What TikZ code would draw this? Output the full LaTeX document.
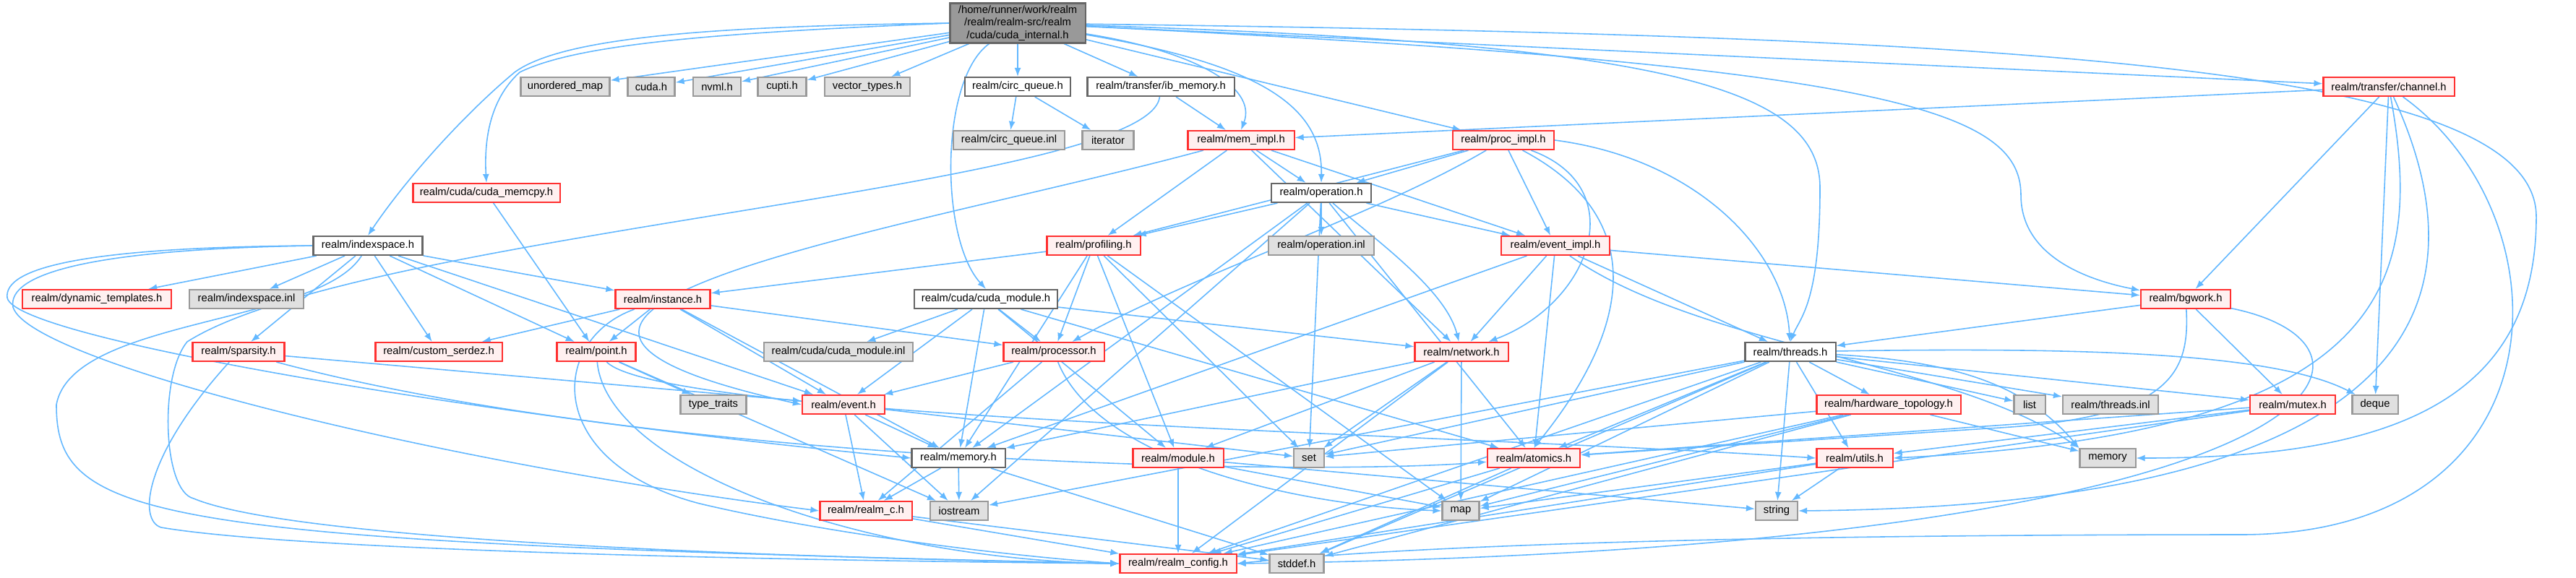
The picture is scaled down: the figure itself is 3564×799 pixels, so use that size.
\documentclass[tikz,border=0pt]{standalone}
\usepackage{fontspec}
\setmainfont{Liberation Sans}
\usetikzlibrary{arrows.meta,backgrounds}
\definecolor{edgec}{HTML}{63B8FF}
\definecolor{redfill}{HTML}{FFF0F0}
\definecolor{redline}{HTML}{FF3030}
\definecolor{grayfill}{HTML}{E0E0E0}
\definecolor{grayline}{HTML}{999999}
\definecolor{mainfill}{HTML}{999999}
\definecolor{mainline}{HTML}{666666}
\definecolor{whiteline}{HTML}{666666}
\begin{document}
\begin{tikzpicture}[x=0.01cm,y=-0.01cm,
 box/.style={rectangle, inner sep=0pt, minimum height=0.26cm, line width=0.6pt, font=\fontsize{4.2}{5}\selectfont, text=black},
 wbox/.style={box, fill=white, draw=whiteline},
 rbox/.style={box, fill=redfill, draw=redline},
 gbox/.style={box, fill=grayfill, draw=grayline},
 mbox/.style={box, fill=mainfill, draw=mainline, align=center, minimum height=0.55cm},
 e/.style={draw=edgec, line width=0.45pt, -{Latex[length=0.12cm,width=0.09cm]}},
]
\useasboundingbox (0,0) rectangle (3564,799);
% row 0
\node[mbox, minimum width=1.87cm] (main) at (1408,32) {/home/runner/work/realm\\/realm/realm-src/realm\\/cuda/cuda\_internal.h};
% row 1
\node[gbox, minimum width=1.23cm] (umap) at (782,120) {unordered\_map};
\node[gbox, minimum width=0.65cm] (cudah) at (901,120) {cuda.h};
\node[gbox, minimum width=0.66cm] (nvml) at (992,120) {nvml.h};
\node[gbox, minimum width=0.67cm] (cupti) at (1082,120) {cupti.h};
\node[gbox, minimum width=1.18cm] (vtypes) at (1200,120) {vector\_types.h};
\node[wbox, minimum width=1.46cm] (circq) at (1408,120) {realm/circ\_queue.h};
\node[wbox, minimum width=2.03cm] (ibmem) at (1606,120) {realm/transfer/ib\_memory.h};
\node[rbox, minimum width=1.81cm] (channel) at (3305,120) {realm/transfer/channel.h};
% row 2
\node[gbox, minimum width=1.54cm] (circqinl) at (1396,194) {realm/circ\_queue.inl};
\node[gbox, minimum width=0.71cm] (iter) at (1533,194) {iterator};
\node[rbox, minimum width=1.47cm] (memimpl) at (1717,194) {realm/mem\_impl.h};
\node[rbox, minimum width=1.40cm] (procimpl) at (2080,194) {realm/proc\_impl.h};
% row 3
\node[rbox, minimum width=2.03cm] (cmemcpy) at (673,267) {realm/cuda/cuda\_memcpy.h};
\node[wbox, minimum width=1.38cm] (operation) at (1828,267) {realm/operation.h};
% row 4
\node[wbox, minimum width=1.51cm] (idx) at (509,340) {realm/indexspace.h};
\node[rbox, minimum width=1.29cm] (prof) at (1513,340) {realm/profiling.h};
\node[gbox, minimum width=1.46cm] (opinl) at (1828,340) {realm/operation.inl};
\node[rbox, minimum width=1.50cm] (evimpl) at (2152,340) {realm/event\_impl.h};
% row 5
\node[rbox, minimum width=2.05cm] (dyn) at (134,414) {realm/dynamic\_templates.h};
\node[gbox, minimum width=1.58cm] (idxinl) at (341,414) {realm/indexspace.inl};
\node[rbox, minimum width=1.31cm] (inst) at (917,414) {realm/instance.h};
\node[wbox, minimum width=1.98cm] (cmod) at (1364,414) {realm/cuda/cuda\_module.h};
\node[rbox, minimum width=1.24cm] (bgwork) at (3024,414) {realm/bgwork.h};
% row 6
\node[rbox, minimum width=1.27cm] (sparse) at (330,487) {realm/sparsity.h};
\node[rbox, minimum width=1.75cm] (serdez) at (607,487) {realm/custom\_serdez.h};
\node[rbox, minimum width=1.09cm] (point) at (825,487) {realm/point.h};
\node[gbox, minimum width=2.06cm] (cmodinl) at (1160,487) {realm/cuda/cuda\_module.inl};
\node[rbox, minimum width=1.39cm] (proc) at (1458,487) {realm/processor.h};
\node[rbox, minimum width=1.29cm] (net) at (2022,487) {realm/network.h};
\node[wbox, minimum width=1.25cm] (threads) at (2477,487) {realm/threads.h};
% row 7
\node[gbox, minimum width=0.91cm] (ttraits) at (987,560) {type\_traits};
\node[rbox, minimum width=1.14cm] (event) at (1167,560) {realm/event.h};
\node[rbox, minimum width=1.99cm] (hwtopo) at (2613,560) {realm/hardware\_topology.h};
\node[gbox, minimum width=0.43cm] (list) at (2808,560) {list};
\node[gbox, minimum width=1.32cm] (thinl) at (2920,560) {realm/threads.inl};
\node[rbox, minimum width=1.18cm] (mutex) at (3172,560) {realm/mutex.h};
\node[gbox, minimum width=0.63cm] (deque) at (3286,560) {deque};
% row 8
\node[wbox, minimum width=1.29cm] (memh) at (1326,634) {realm/memory.h};
\node[rbox, minimum width=1.25cm] (module) at (1630,634) {realm/module.h};
\node[gbox, minimum width=0.42cm] (set) at (1811,634) {set};
\node[rbox, minimum width=1.28cm] (atomics) at (2122,634) {realm/atomics.h};
\node[rbox, minimum width=1.05cm] (utils) at (2566,634) {realm/utils.h};
\node[gbox, minimum width=0.77cm] (stdmem) at (2916,634) {memory};
% row 9
\node[rbox, minimum width=1.27cm] (realmc) at (1198,707) {realm/realm\_c.h};
\node[gbox, minimum width=0.80cm] (iostream) at (1327,707) {iostream};
\node[gbox, minimum width=0.51cm] (map) at (2021,707) {map};
\node[gbox, minimum width=0.58cm] (string) at (2458,707) {string};
% row 10
\node[rbox, minimum width=1.61cm] (config) at (1630,780) {realm/realm\_config.h};
\node[gbox, minimum width=0.75cm] (stddef) at (1794,780) {stddef.h};

\begin{pgfonlayer}{background}
\fill[white] (0,0) rectangle (3564,799);
% main
\draw[e] (main) -- (umap);
\draw[e] (main) -- (cudah);
\draw[e] (main) -- (nvml);
\draw[e] (main) -- (cupti);
\draw[e] (main) -- (vtypes);
\draw[e] (main) -- (circq);
\draw[e] (main) -- (ibmem);
\draw[e] (main) -- (procimpl);
\draw[e] (main) -- (channel);
\draw[e] (main.west) .. controls (1000,36) and (780,50) .. (712,100) .. controls (640,160) and (560,250) .. (idx.north);
\draw[e] (main.west) .. controls (1000,45) and (800,60) .. (719,100) .. controls (675,140) and (670,200) .. (cmemcpy.north);
\draw[e] (main) .. controls (1300,110) and (1300,330) .. (cmod.north);
\draw[e] (main) .. controls (1650,70) and (1740,120) .. (memimpl.north);
\draw[e] (main) .. controls (1750,90) and (1830,150) .. (operation.north);
\draw[e] (main) .. controls (2300,60) and (2518,120) .. (2518,260) .. controls (2518,420) and (2490,440) .. (threads.north);
\draw[e] (main) .. controls (2600,90) and (2796,150) .. (2796,270) .. controls (2796,360) and (2900,390) .. (bgwork);
\draw[e] (main) .. controls (2800,50) and (3509,90) .. (3509,300) .. controls (3509,560) and (3300,634) .. (stdmem.east);
% circ queue
\draw[e] (circq) -- (circqinl);
\draw[e] (circq) -- (iter);
% ib memory
\draw[e] (ibmem) -- (memimpl);
\draw[e] (ibmem) .. controls (1590,260) and (500,320) .. (259,473) .. controls (220,520) and (225,680) .. (268,690) .. controls (400,745) and (1000,770) .. (config.west);
% channel
\draw[e] (channel) -- (memimpl);
\draw[e] (channel) -- (bgwork);
\draw[e] (channel) -- (deque);
\draw[e] (channel) .. controls (3356,400) and (3300,600) .. (utils.east);
\draw[e] (channel) .. controls (3457,450) and (3300,700) .. (string.east);
\draw[e] (channel) .. controls (3555,300) and (3555,740) .. (3100,740) .. controls (2300,740) and (1900,760) .. (config.east);
% mem impl
\draw[e] (memimpl) -- (operation);
\draw[e] (memimpl) -- (evimpl);
\draw[e] (memimpl) -- (prof);
\draw[e] (memimpl) -- (net);
\draw[e] (memimpl) .. controls (1250,320) and (520,430) .. (event.west);
% proc impl
\draw[e] (procimpl) -- (operation);
\draw[e] (procimpl) -- (prof);
\draw[e] (procimpl) -- (evimpl);
\draw[e] (procimpl) .. controls (1900,300) and (1650,380) .. (proc);
\draw[e] (procimpl) .. controls (2260,260) and (2200,420) .. (net);
\draw[e] (procimpl) .. controls (2280,300) and (2260,450) .. (atomics.north);
\draw[e] (procimpl.east) .. controls (2350,220) and (2470,350) .. (threads);
% cuda memcpy
\draw[e] (cmemcpy) -- (point);
% operation
\draw[e] (operation) -- (prof);
\draw[e] (operation) -- (opinl);
\draw[e] (operation) -- (evimpl);
\draw[e] (operation) -- (memh);
\draw[e] (operation) -- (iostream);
\draw[e] (operation) -- (set);
\draw[e] (operation) -- (atomics);
\draw[e] (operation) .. controls (1900,330) and (2000,400) .. (net);
% indexspace
\draw[e] (idx) -- (dyn);
\draw[e] (idx) -- (idxinl);
\draw[e] (idx) -- (inst);
\draw[e] (idx) -- (sparse);
\draw[e] (idx) -- (serdez);
\draw[e] (idx) -- (point);
\draw[e] (idx) -- (event);
\draw[e] (idx.west) .. controls (120,342) and (5,370) .. (10,412) .. controls (20,470) and (700,580) .. (memh.west);
\draw[e] (idx.west) .. controls (120,345) and (10,380) .. (18,425) .. controls (40,500) and (600,640) .. (realmc.west);
\draw[e] (idx) .. controls (440,450) and (100,440) .. (78,560) .. controls (78,720) and (200,750) .. (config.west);
% profiling
\draw[e] (prof) -- (inst);
\draw[e] (prof) -- (proc);
\draw[e] (prof) -- (memh);
\draw[e] (prof) -- (module);
\draw[e] (prof) -- (set);
\draw[e] (prof) -- (map);
% event impl
\draw[e] (evimpl) -- (bgwork);
\draw[e] (evimpl) -- (net);
\draw[e] (evimpl) -- (threads);
\draw[e] (evimpl) -- (atomics);
\draw[e] (evimpl) -- (memh);
\draw[e] (evimpl) .. controls (2350,480) and (2700,500) .. (stdmem.north west);
% instance
\draw[e] (inst) -- (serdez);
\draw[e] (inst) -- (point);
\draw[e] (inst) -- (proc);
\draw[e] (inst) -- (event);
\draw[e] (inst) -- (memh);
\draw[e] (inst) .. controls (760,470) and (750,640) .. (968,697) .. controls (1150,740) and (1400,770) .. (config.west);
% cuda module
\draw[e] (cmod) -- (cmodinl);
\draw[e] (cmod) -- (proc);
\draw[e] (cmod) -- (net);
\draw[e] (cmod) -- (event);
\draw[e] (cmod) -- (memh);
\draw[e] (cmod) -- (module);
\draw[e] (cmod) -- (atomics);
% bgwork
\draw[e] (bgwork) -- (threads);
\draw[e] (bgwork) -- (mutex);
\draw[e] (bgwork) .. controls (3030,520) and (3000,580) .. (2750,593) -- (atomics);
\draw[e] (bgwork) .. controls (3350,480) and (3250,760) .. (config.east);
% sparsity
\draw[e] (sparse) -- (event);
\draw[e] (sparse) .. controls (900,640) and (1800,660) .. (atomics);
\draw[e] (sparse) .. controls (200,630) and (190,720) .. (223,730) .. controls (400,760) and (1000,775) .. (config.west);
% point
\draw[e] (point) -- (ttraits);
\draw[e] (point) -- (iostream);
\draw[e] (point) .. controls (920,580) and (2000,600) .. (utils.west);
\draw[e] (point) .. controls (840,650) and (1200,775) .. (config.west);
% processor
\draw[e] (proc) -- (event);
\draw[e] (proc) -- (realmc);
\draw[e] (proc) .. controls (1520,640) and (1800,700) .. (map.west);
% network
\draw[e] (net) -- (module);
\draw[e] (net) -- (memh);
\draw[e] (net) -- (map);
\draw[e] (net) -- (set);
\draw[e] (net) -- (config);
% threads
\draw[e] (threads) -- (hwtopo);
\draw[e] (threads) -- (list);
\draw[e] (threads) -- (thinl);
\draw[e] (threads) -- (mutex);
\draw[e] (threads) .. controls (2900,480) and (3150,490) .. (deque);
\draw[e] (threads) -- (utils);
\draw[e] (threads) .. controls (2700,500) and (2800,530) .. (stdmem.north west);
\draw[e] (threads) -- (string);
\draw[e] (threads) -- (set);
\draw[e] (threads) -- (atomics);
\draw[e] (threads) -- (map);
\draw[e] (threads) -- (iostream);
\draw[e] (threads) -- (config);
\draw[e] (threads) -- (stddef);
% event
\draw[e] (event) -- (realmc);
\draw[e] (event) -- (memh);
\draw[e] (event) -- (iostream);
\draw[e] (event) -- (set);
% hardware topology
\draw[e] (hwtopo) -- (set);
\draw[e] (hwtopo) -- (map);
\draw[e] (hwtopo) -- (stdmem);
\draw[e] (hwtopo) -- (config);
\draw[e] (hwtopo) -- (stddef);
% mutex
\draw[e] (mutex) -- (utils);
\draw[e] (mutex) -- (atomics);
\draw[e] (mutex) -- (config);
% memory.h
\draw[e] (memh) -- (realmc);
\draw[e] (memh) -- (iostream);
\draw[e] (memh) -- (stddef);
% module
\draw[e] (module) -- (config);
\draw[e] (module) -- (map);
\draw[e] (module) -- (string);
% atomics
\draw[e] (atomics) -- (config);
\draw[e] (atomics) -- (stddef);
% utils
\draw[e] (utils) -- (string);
\draw[e] (utils) -- (map);
\draw[e] (utils) -- (config);
% realm_c
\draw[e] (realmc) -- (config);
\draw[e] (realmc) -- (stddef);
\end{pgfonlayer}
\end{tikzpicture}
\end{document}
